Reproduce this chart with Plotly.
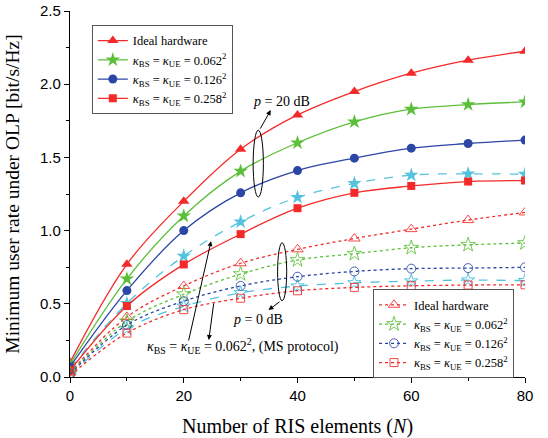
import plotly.graph_objects as go

# Number of RIS elements
N = [0, 10, 20, 30, 40, 50, 60, 70, 80]

# p = 20 dB, OLP rate
rate20_ideal = [0.10, 0.77, 1.20, 1.556, 1.79, 1.95, 2.075, 2.164, 2.225]
rate20_k062 = [0.085, 0.67, 1.10, 1.406, 1.60, 1.743, 1.829, 1.861, 1.879]
rate20_k126 = [0.07, 0.59, 1.00, 1.258, 1.41, 1.495, 1.563, 1.595, 1.618]
rate20_k258 = [0.045, 0.485, 0.769, 0.976, 1.153, 1.258, 1.305, 1.335, 1.342]
rate20_ms062 = [0.055, 0.503, 0.826, 1.06, 1.227, 1.322, 1.379, 1.388, 1.385]

# p = 0 dB, OLP rate
rate0_ideal = [0.03, 0.41, 0.622, 0.777, 0.872, 0.946, 1.010, 1.072, 1.124]
rate0_k062 = [0.025, 0.38, 0.565, 0.703, 0.799, 0.842, 0.883, 0.903, 0.915]
rate0_k126 = [0.02, 0.355, 0.518, 0.622, 0.685, 0.721, 0.740, 0.744, 0.749]
rate0_k258 = [0.01, 0.30, 0.46, 0.538, 0.589, 0.612, 0.623, 0.628, 0.630]
rate0_ms062 = [0.012, 0.33, 0.483, 0.575, 0.621, 0.643, 0.655, 0.662, 0.658]

labels = [
    "Ideal hardware",
    "<i>κ</i><sub>BS</sub> = <i>κ</i><sub>UE</sub> = 0.062<sup>2</sup>",
    "<i>κ</i><sub>BS</sub> = <i>κ</i><sub>UE</sub> = 0.126<sup>2</sup>",
    "<i>κ</i><sub>BS</sub> = <i>κ</i><sub>UE</sub> = 0.258<sup>2</sup>",
]

RED = "#F42A2A"
GREEN = "#5CBF3A"
BLUE = "#2C46A6"
CYAN = "#55C3DE"

SERIF = "Liberation Serif"
SANS = "Liberation Sans"

fig = go.Figure()

solid = [
    (rate20_ideal, RED, "triangle-up", 10, labels[0]),
    (rate20_k062, GREEN, "star", 11, labels[1]),
    (rate20_k126, BLUE, "circle", 9, labels[2]),
    (rate20_k258, RED, "square", 8, labels[3]),
]
hollow = [
    (rate0_ideal, RED, "triangle-up-open", 10, labels[0]),
    (rate0_k062, GREEN, "star-open", 11, labels[1]),
    (rate0_k126, BLUE, "circle-open", 9, labels[2]),
    (rate0_k258, RED, "square-open", 8, labels[3]),
]

# MS protocol curves (not in legends)
fig.add_trace(go.Scatter(
    x=N, y=rate20_ms062, mode="lines+markers", showlegend=False,
    line=dict(color=CYAN, width=1.3, dash="dash", shape="spline"),
    marker=dict(symbol="star", size=11, color=CYAN),
))
fig.add_trace(go.Scatter(
    x=N, y=rate0_ms062, mode="lines+markers", showlegend=False,
    line=dict(color=CYAN, width=1.3, dash="dash", shape="spline"),
    marker=dict(symbol="star-open", size=10, color=CYAN, line=dict(width=1)),
))

for y, c, sym, sz, name in solid:
    fig.add_trace(go.Scatter(
        x=N, y=y, mode="lines+markers", name=name, legend="legend",
        line=dict(color=c, width=1.3, shape="spline"),
        marker=dict(symbol=sym, size=sz, color=c),
    ))
for y, c, sym, sz, name in hollow:
    fig.add_trace(go.Scatter(
        x=N, y=y, mode="lines+markers", name=name, legend="legend2",
        line=dict(color=c, width=1.3, dash="dot", shape="spline"),
        marker=dict(symbol=sym, size=sz, color=c, line=dict(width=1), opacity=0.85),
    ))

axis_common = dict(showgrid=False, zeroline=False, showline=True, automargin=False,
                   linecolor="black", linewidth=1.2, tickcolor="black")

legend_common = dict(xanchor="left", yanchor="top", bgcolor="white",
                     bordercolor="#555", borderwidth=1,
                     font=dict(family=SERIF, size=12.5, color="black"),
                     itemwidth=30, tracegroupgap=0)

fig.update_layout(
    width=548, height=438,
    margin=dict(l=70, r=23, t=11, b=61),
    paper_bgcolor="white", plot_bgcolor="white",
    xaxis=dict(range=[0, 80], dtick=20, ticks="outside", ticklen=5, tickwidth=1.2,
               minor=dict(dtick=10, ticks="outside", ticklen=3, tickcolor="black"),
               tickfont=dict(family=SANS, size=15, color="black"),
               title=dict(text="Number of RIS elements (<i>N</i>)",
                          font=dict(family=SERIF, size=20, color="black")),
               **axis_common),
    xaxis2=dict(range=[0, 80], overlaying="x", side="top", dtick=10, ticks="inside",
                ticklen=4, tickwidth=1.2, showticklabels=False, **axis_common),
    yaxis=dict(range=[0, 2.5], dtick=0.5, tickformat=".1f", ticks="outside", ticklen=5,
               tickwidth=1.2,
               minor=dict(dtick=0.25, ticks="outside", ticklen=3, tickcolor="black"),
               tickfont=dict(family=SANS, size=15, color="black"),
               title=dict(text="Minimum user rate under OLP [bit/s/Hz]",
                          font=dict(family=SERIF, size=19.5, color="black")),
               **axis_common),
    yaxis2=dict(range=[0, 2.5], overlaying="y", side="right", dtick=0.25, ticks="inside",
                ticklen=4, tickwidth=1.2, showticklabels=False, **axis_common),
    legend=dict(x=0.048, y=0.962, **legend_common),
    legend2=dict(x=0.666, y=0.24, **legend_common),
)

# Ellipses grouping the p = 20 dB and p = 0 dB curves
fig.add_shape(type="circle", xref="x", yref="y", x0=32.2, x1=34.0, y0=1.229, y1=1.686,
              line=dict(color="black", width=1))
fig.add_shape(type="circle", xref="x", yref="y", x0=36.5, x1=38.1, y0=0.521, y1=0.917,
              line=dict(color="black", width=1))

ann_font = dict(family=SERIF, size=14, color="black")
arrow = dict(showarrow=True, arrowhead=2, arrowsize=1, arrowwidth=1, arrowcolor="black",
             axref="x", ayref="y", text="")
fig.add_annotation(x=35.3, y=1.823, ax=33.3, ay=1.686, **arrow)
fig.add_annotation(x=34.9, y=0.457, ax=37.1, ay=0.521, **arrow)
fig.add_annotation(x=24.8, y=0.928, ax=20.8, ay=0.239, **arrow)
fig.add_annotation(x=24.4, y=0.253, ax=25.3, ay=0.512, **arrow)

fig.add_annotation(x=37.2, y=1.88, text="<i>p</i> = 20 dB", showarrow=False, font=ann_font)
fig.add_annotation(x=33.1, y=0.39, text="<i>p</i> = 0 dB", showarrow=False, font=ann_font)
fig.add_annotation(x=13.2, y=0.212, xanchor="left",
                   text="<i>κ</i><sub>BS</sub> = <i>κ</i><sub>UE</sub> = 0.062<sup>2</sup>, (MS protocol)",
                   showarrow=False, font=ann_font)

fig.write_html("out.html")
